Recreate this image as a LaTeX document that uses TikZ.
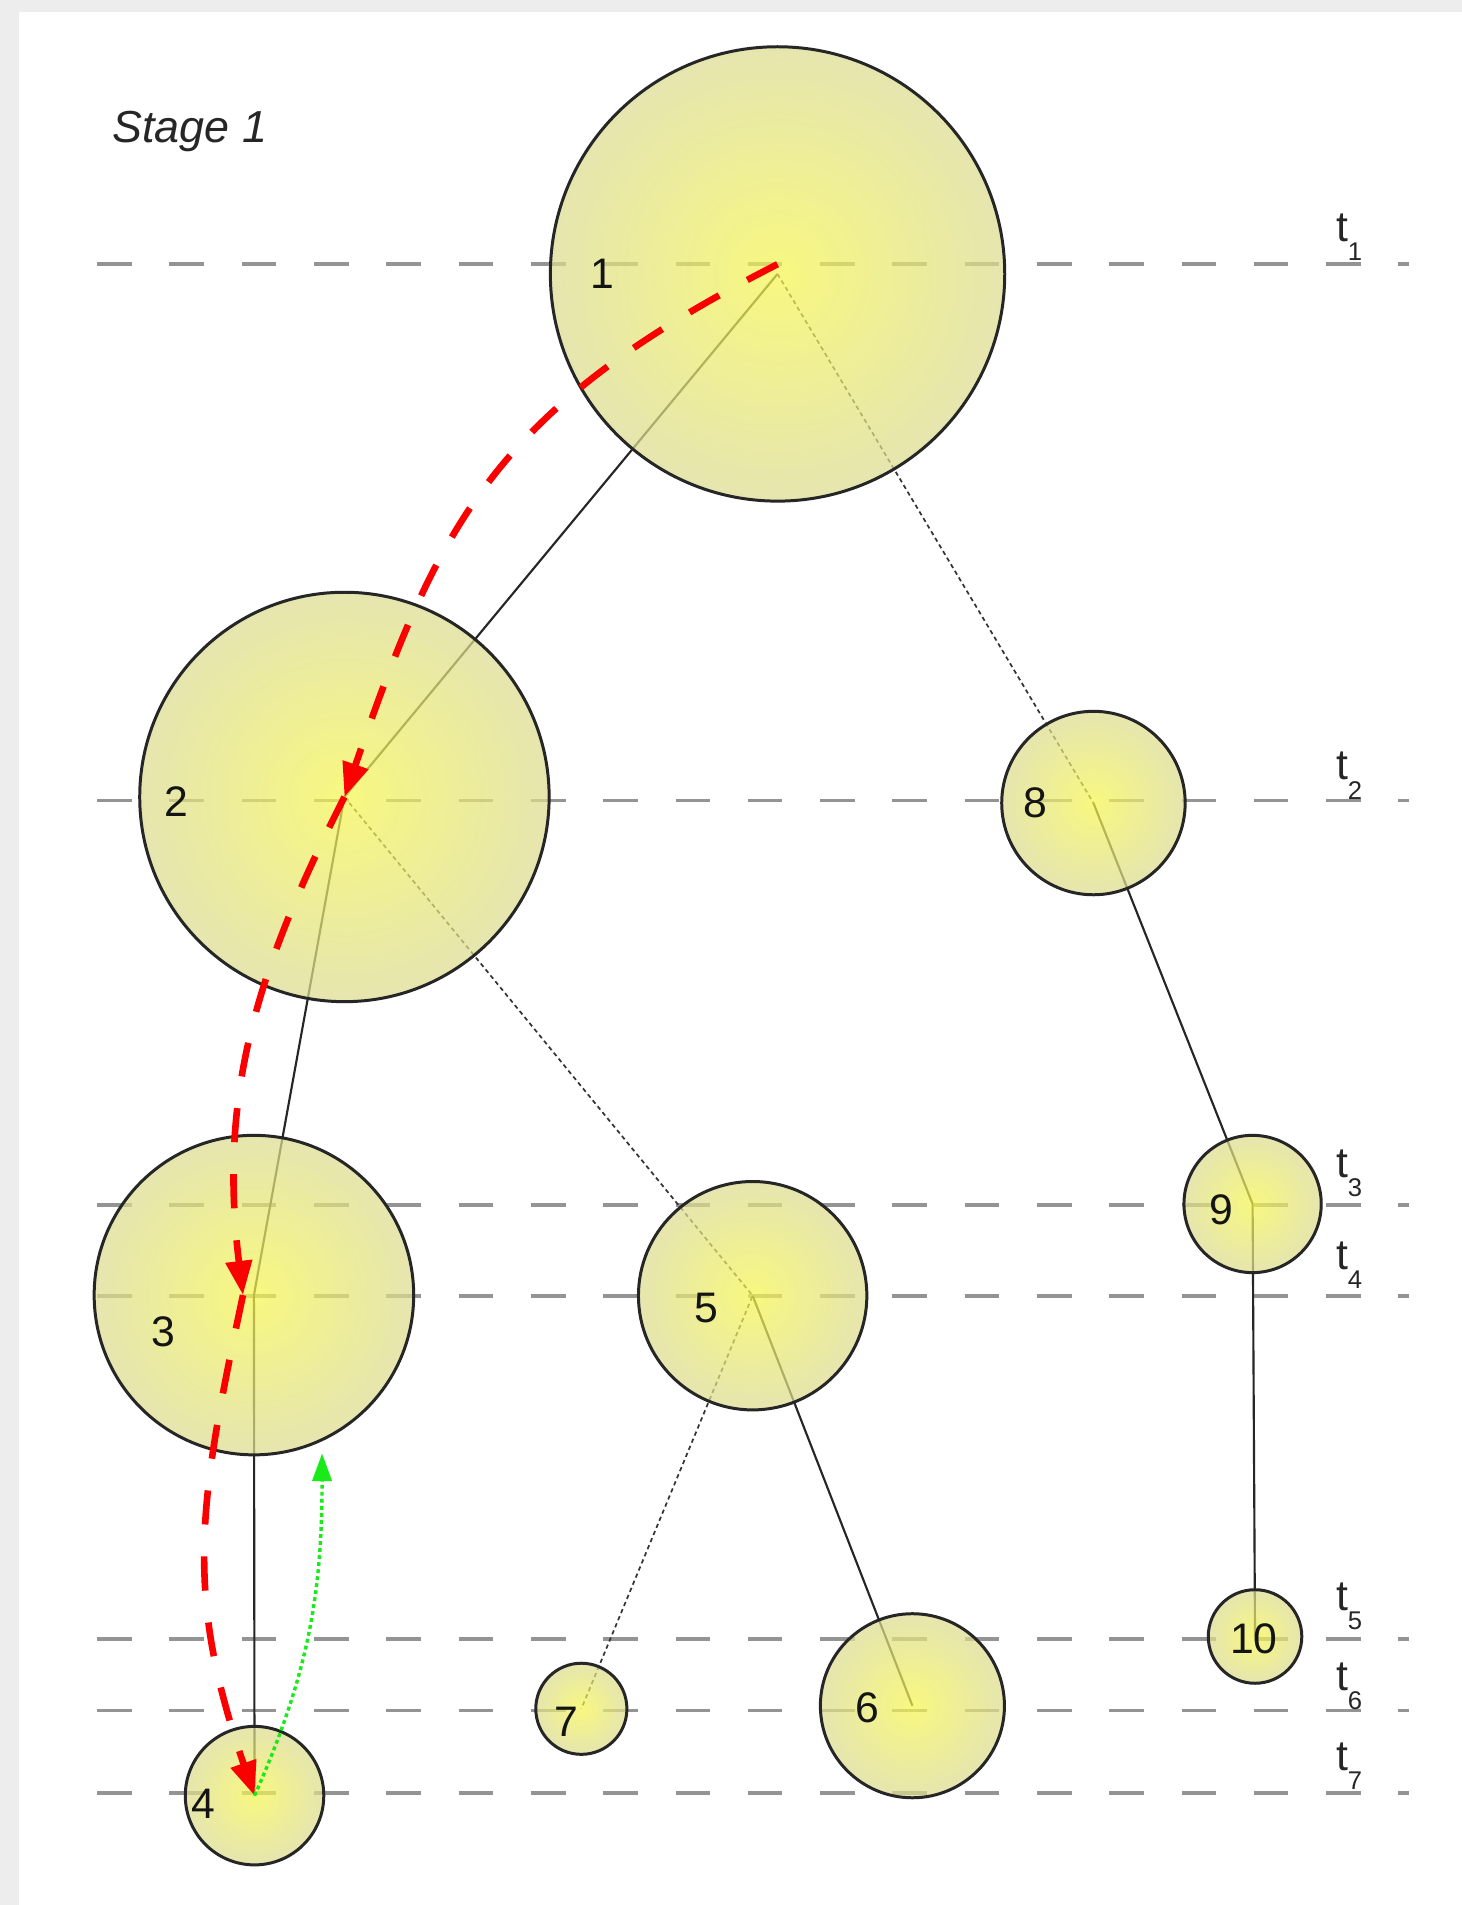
\documentclass[tikz,border=0pt]{standalone}
\usepackage{fontspec}
\setmainfont{Liberation Sans}
\usetikzlibrary{backgrounds,arrows.meta}
\definecolor{tracered}{RGB}{250,0,0}
\definecolor{backgreen}{RGB}{25,235,25}
\definecolor{nodein}{RGB}{245,245,80}
\definecolor{nodeout}{RGB}{220,220,145}
\newcommand{\tstep}[1]{t\raisebox{-4.5pt}{\fontsize{6}{7}\selectfont #1}}
\tikzset{
	proc/.style={circle,inner sep=0,draw=black!85,line width=0.7pt,inner color=nodein,outer color=nodeout,fill opacity=0.72},
	numlabel/.style={font=\fontsize{10}{12}\selectfont, text=black!92, inner sep=0},
	timeline/.style={color=black!42, line width=0.85pt, dash pattern=on 0.285cm off 0.31cm},
	timemark/.style={font=\fontsize{10}{12}\selectfont, text=black!85, inner sep=0, anchor=base west},
	treeedge/.style={color=black!85, line width=0.5pt},
	treedot/.style={color=black!80, line width=0.4pt, dash pattern=on 1pt off 0.8pt},
	trace/.style={->,>={Triangle[width=6pt,length=8pt]},color=tracered,line width=1.55pt,dash pattern=on 8pt off 7.5pt},
	backtrace/.style={->,>={Triangle[width=4.5pt,length=6.5pt]},color=backgreen,line width=0.8pt,dash pattern=on 0.9pt off 0.75pt}
}
\begin{document}
\begin{tikzpicture}
	\useasboundingbox (0,0) rectangle (12.03,15.68);
	%%%tree
	\node[proc,minimum size=3.74cm] (n1) at (6.40,13.425) {};
	\node[proc,minimum size=3.37cm] (n2) at (2.835,9.12) {};
	\node[proc,minimum size=1.51cm] (n8) at (9.00,9.07) {};
	\node[proc,minimum size=2.63cm] (n3) at (2.09,5.02) {};
	\node[proc,minimum size=1.88cm] (n5) at (6.195,5.015) {};
	\node[proc,minimum size=1.13cm] (n9) at (10.31,5.77) {};
	\node[proc,minimum size=0.77cm] (n10) at (10.33,2.21) {};
	\node[proc,minimum size=0.75cm] (n7) at (4.785,1.615) {};
	\node[proc,minimum size=1.515cm] (n6) at (7.51,1.64) {};
	\node[proc,minimum size=1.14cm] (n4) at (2.095,0.90) {};
	
	\node[numlabel] (l1) at ([shift={(-1.44,0)}]n1.center) {1};
	\node[numlabel] (l2) at ([shift={(-1.385,-0.04)}]n2.center) {2};
	\node[numlabel] (l8) at ([shift={(-0.48,0)}]n8.center) {8};
	\node[numlabel] (l3) at ([shift={(-0.745,-0.30)}]n3.center) {3};
	\node[numlabel] (l5) at ([shift={(-0.385,-0.105)}]n5.center) {5};
	\node[numlabel] (l9) at ([shift={(-0.26,-0.05)}]n9.center) {9};
	\node[numlabel] (l10) at ([shift={(-0.01,-0.02)}]n10.center) {10};
	\node[numlabel] (l7) at ([shift={(-0.125,-0.105)}]n7.center) {7};
	\node[numlabel] (l6) at ([shift={(-0.37,-0.02)}]n6.center) {6};
	\node[numlabel] (l4) at ([shift={(-0.425,-0.07)}]n4.center) {4};
	
	\node[font=\itshape\fontsize{10.5}{12}\selectfont, text=black!85, anchor=base west, inner sep=0] (stage) at (0.92,14.505) {Stage 1};
	
	%%%time lines
	\coordinate (t1) at (0.80,13.505);
	\coordinate (t2) at (0.80,9.09);
	\coordinate (t3) at (0.80,5.76);
	\coordinate (t4) at (0.80,5.01);
	\coordinate (t5) at (0.80,2.19);
	\coordinate (t6) at (0.80,1.60);
	\coordinate (t7) at (0.80,0.92);
	\node[timemark] (m1) at (10.99,13.69) {\tstep{1}};
	\node[timemark] (m2) at (10.99,9.26) {\tstep{2}};
	\node[timemark] (m3) at (10.99,5.99) {\tstep{3}};
	\node[timemark] (m4) at (10.99,5.23) {\tstep{4}};
	\node[timemark] (m5) at (10.99,2.425) {\tstep{5}};
	\node[timemark] (m6) at (10.99,1.765) {\tstep{6}};
	\node[timemark] (m7) at (10.99,1.11) {\tstep{7}};
	
	\begin{scope}[on background layer]
		\fill[black!7] (0,0) rectangle (12.03,15.68);
		\fill[white] (0.156,0) rectangle (12.03,15.58);
		\draw[timeline] (t1) -- ++(10.8,0);
		\draw[timeline] (t2) -- ++(10.8,0);
		\draw[timeline] (t3) -- ++(10.8,0);
		\draw[timeline] (t4) -- ++(10.8,0);
		\draw[timeline] (t5) -- ++(10.8,0);
		\draw[timeline] (t6) -- ++(10.8,0);
		\draw[timeline] (t7) -- ++(10.8,0);
		
		\draw[treeedge] (n1.center) -- (n2.center) -- (n3.center) -- (n4.center);
		\draw[treedot] (n1.center) -- (n8.center);
		\draw[treeedge] (n8.center) -- (n9.center) -- (n10.center);
		\draw[treedot] (n2.center) -- (n5.center) -- (n7.center);
		\draw[treeedge] (n5.center) -- (n6.center);
	\end{scope}
	
	%%%search path
	\draw ([yshift=0.8mm]n1.center) edge[trace,out=207,in=71,out distance=2.6cm,in distance=2.4cm] (n2.center)
	(n2.center) edge[trace,out=243,in=97] ([xshift=-0.9mm]n3.center)
	([xshift=-0.9mm]n3.center) edge[trace,out=258,in=109,looseness=1.1] (n4.center);
	
	\draw[backtrace] (n4.center) to[out=66,in=-90] ([yshift=-1mm]n3.-65);
\end{tikzpicture}
\end{document}
